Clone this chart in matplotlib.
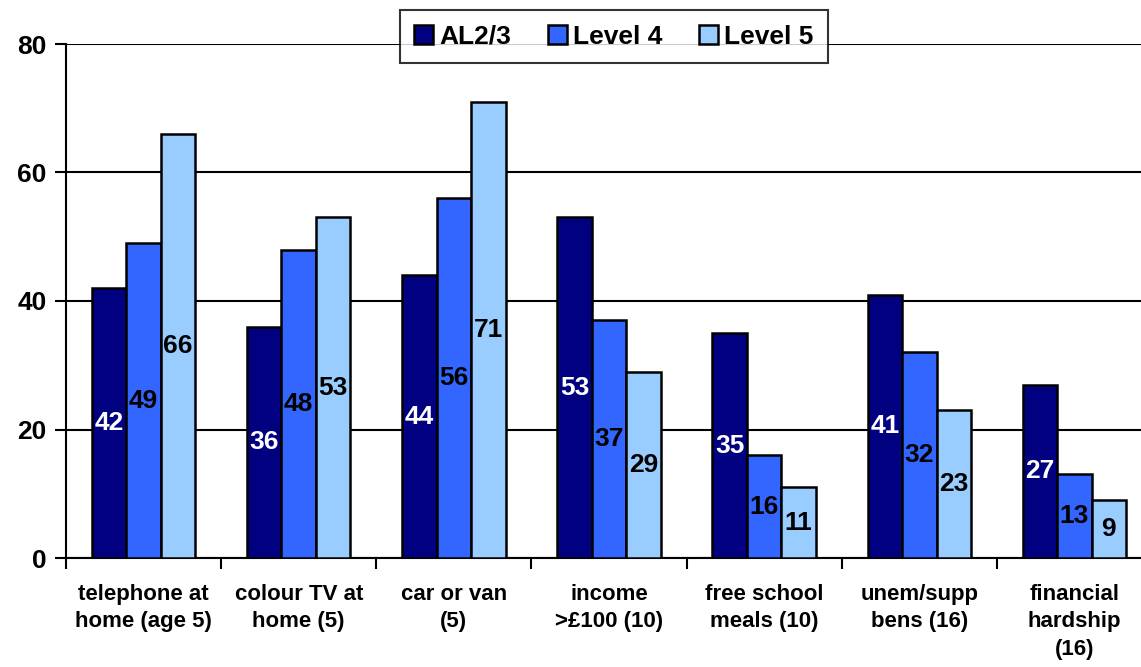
import numpy as np
import matplotlib
matplotlib.use("Agg")
import matplotlib.pyplot as plt

categories = ["telephone at\nhome (age 5)", "colour TV at\nhome (5)", "car or van\n(5)",
              "income\n>£100 (10)", "free school\nmeals (10)", "unem/supp\nbens (16)",
              "financial\nhardship\n(16)"]
series_names = ["AL2/3", "Level 4", "Level 5"]
al23 = [42, 36, 44, 53, 35, 41, 27]
level4 = [49, 48, 56, 37, 16, 32, 13]
level5 = [66, 53, 71, 29, 11, 23, 9]
colors = ["#000080", "#3366FF", "#99CCFF"]
text_colors = ["white", "black", "black"]

plt.rcParams['font.family'] = ['Liberation Sans', 'DejaVu Sans']
plt.rcParams['font.weight'] = 'bold'

fig = plt.figure(figsize=(11.41, 6.67), dpi=100)
W, H = 1141, 667
ax = fig.add_axes([66 / W, (H - 558) / H, (1152 - 66) / W, 514 / H])

x = np.arange(len(categories))
bw = 1 / 4.5
for i, vals in enumerate([al23, level4, level5]):
    pos = x + (i - 1) * bw
    bars = ax.bar(pos, vals, width=bw, color=colors[i], edgecolor="black",
                  linewidth=1.8, label=series_names[i], zorder=3)
    for b, v in zip(bars, vals):
        ax.text(b.get_x() + b.get_width() / 2, v / 2, str(v), ha="center", va="center",
                color=text_colors[i], fontsize=19, fontweight="bold", zorder=4)

ax.set_xlim(-0.5, len(categories) - 0.5)
ax.set_ylim(0, 80)
ax.set_yticks([0, 20, 40, 60, 80])
ax.yaxis.grid(True, color="black", linewidth=1.5, zorder=0)
ax.set_axisbelow(True)

ax.set_xticks(x)
ax.set_xticklabels(categories, fontsize=16, fontweight="bold", linespacing=1.38)
ax.tick_params(axis="x", length=0, pad=19)
ax.set_xticks(np.arange(len(categories) + 1) - 0.5, minor=True)
ax.tick_params(axis="x", which="minor", length=8, width=1.5, direction="out")
ax.tick_params(axis="y", length=8, width=1.5, direction="out", labelsize=19, pad=6)
for lab in ax.get_yticklabels():
    lab.set_fontweight("bold")

for s in ["top", "right"]:
    ax.spines[s].set_visible(False)
for s in ["left", "bottom"]:
    ax.spines[s].set_linewidth(1.5)
    ax.spines[s].set_color("black")

leg = ax.legend(loc="upper center", bbox_to_anchor=(614 / W, 1 - 10 / H),
                bbox_transform=fig.transFigure, ncol=3, frameon=True, fancybox=False,
                edgecolor="black", fontsize=19, handlelength=0.7, handleheight=0.7,
                handletextpad=0.25, columnspacing=1.4, borderpad=0.55, borderaxespad=0)
leg.get_frame().set_linewidth(1.5)
leg.set_zorder(10)
for t in leg.get_texts():
    t.set_fontweight("bold")

fig.savefig("out.png", dpi=100)
